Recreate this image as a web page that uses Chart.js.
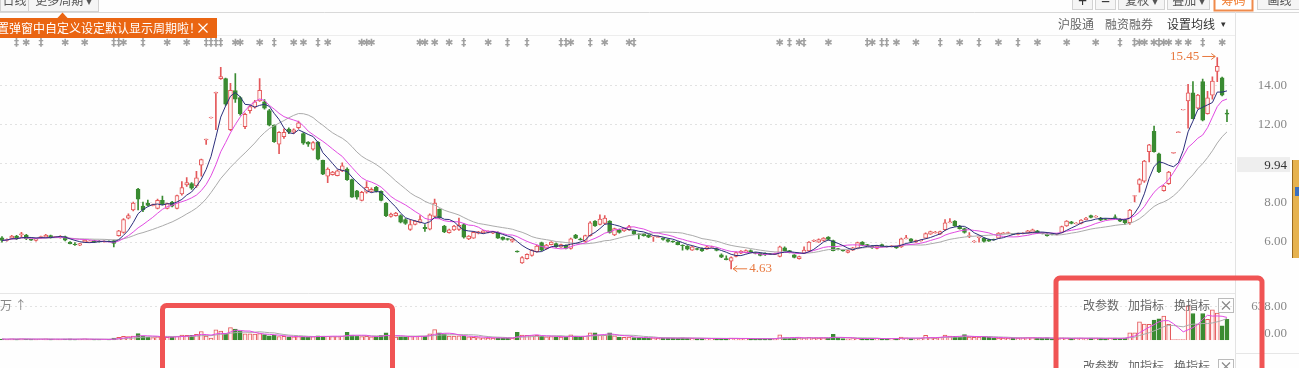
<!DOCTYPE html>
<html>
<head>
<meta charset="utf-8">
<script src="https://cdn.jsdelivr.net/npm/chart.js@4.4.1/dist/chart.umd.min.js"></script>
<style>
html, body { margin: 0; padding: 0; background: #fefefe; overflow: hidden; }
canvas { display: block; }
</style>
</head>
<body>
<canvas id="kline" width="1299" height="368"></canvas>
<script>
// 日K数据 (读图估算)
const opens = [
  6.22, 6.08, 6.20, 6.30, 6.38, 6.36, 6.12, 6.09, 6.22, 6.25,
  6.33, 6.25, 6.24, 6.28, 6.00, 5.90, 5.84, 6.00, 6.02, 6.08,
  6.05, 6.02, 6.04, 6.08, 6.33, 6.49, 7.22, 7.64, 8.71, 7.84,
  8.00, 7.89, 7.72, 8.13, 7.72, 8.05, 7.72, 8.46, 8.92, 8.99,
  8.87, 9.94, 11.24, 12.36, 13.62, 14.37, 14.37, 11.75, 13.75, 13.40,
  11.91, 12.73, 12.90, 13.22, 13.18, 12.73, 11.99, 11.01, 11.39, 11.78,
  11.62, 11.85, 11.55, 11.12, 10.76, 11.12, 10.19, 9.37, 9.45, 9.40,
  9.65, 9.74, 9.20, 8.62, 8.13, 8.55, 8.60, 8.80, 8.60, 8.00,
  7.31, 7.35, 7.35, 7.15, 6.65, 6.90, 7.00, 6.75, 6.66, 7.31,
  7.67, 6.82, 6.48, 6.62, 6.65, 6.90, 6.16, 6.20, 6.45, 6.48,
  6.50, 6.46, 6.49, 6.25, 6.16, 6.05, 5.53, 4.93, 5.15, 5.31,
  5.51, 5.97, 5.67, 5.87, 5.92, 5.74, 5.84, 5.67, 6.36, 6.15,
  6.03, 6.33, 7.07, 6.90, 6.95, 7.07, 6.36, 6.63, 6.57, 6.63,
  6.57, 6.41, 6.41, 6.36, 6.28, 6.25, 6.20, 6.13, 6.03, 6.00,
  5.84, 5.79, 5.59, 5.65, 5.67, 5.64, 5.72, 5.67, 5.35, 5.16,
  5.02, 5.26, 5.43, 5.46, 5.56, 5.44, 5.43, 5.43, 5.40, 5.38,
  5.26, 5.70, 5.56, 5.34, 5.15, 5.43, 5.54, 6.05, 6.00, 6.08,
  6.25, 6.08, 5.65, 5.57, 5.47, 5.59, 5.67, 6.00, 5.85, 5.80,
  5.67, 5.87, 5.78, 5.77, 5.80, 5.75, 6.18, 6.16, 6.00, 6.06,
  6.20, 6.41, 6.48, 6.41, 6.63, 7.00, 7.07, 6.82, 6.69, 6.30,
  6.03, 6.24, 6.20, 6.13, 6.13, 6.20, 6.45, 6.46, 6.42, 6.41,
  6.44, 6.46, 6.49, 6.57, 6.46, 6.41, 6.42, 6.40, 6.49, 6.82,
  7.03, 6.95, 6.95, 7.15, 7.35, 7.29, 7.23, 7.18, 7.17, 7.28,
  7.18, 7.12, 6.99, 8.35, 8.95, 9.12, 10.63, 11.67, 10.52, 8.63,
  8.99, 10.56, 11.61, 12.77, 13.22, 13.64, 12.86, 14.21, 12.57, 13.52,
  14.73, 14.41, 12.60
]
const highs = [
  6.28, 6.16, 6.35, 6.34, 6.50, 6.40, 6.14, 6.18, 6.30, 6.40,
  6.36, 6.28, 6.33, 6.30, 6.03, 5.97, 5.94, 6.13, 6.08, 6.10,
  6.07, 6.06, 6.06, 6.10, 6.60, 7.20, 7.45, 8.05, 8.75, 8.05,
  8.15, 7.95, 8.20, 8.35, 8.00, 8.08, 8.40, 9.10, 9.30, 9.05,
  9.62, 10.25, 11.27, 12.40, 13.68, 14.95, 14.40, 14.13, 14.62, 13.45,
  12.60, 13.00, 13.25, 14.37, 13.30, 12.80, 12.00, 11.65, 11.80, 11.85,
  11.80, 12.20, 11.60, 11.15, 11.15, 11.15, 10.20, 9.80, 9.62, 9.70,
  10.05, 9.80, 9.22, 8.65, 8.60, 9.10, 8.78, 8.85, 8.62, 8.02,
  7.48, 7.52, 7.40, 7.20, 7.15, 7.10, 7.35, 6.90, 7.45, 8.20,
  7.70, 6.85, 6.66, 6.86, 7.23, 6.95, 6.33, 6.55, 6.55, 6.60,
  6.58, 6.55, 6.52, 6.27, 6.18, 6.17, 5.55, 5.25, 5.40, 5.62,
  5.85, 6.00, 5.88, 6.02, 5.95, 5.90, 5.86, 6.20, 6.40, 6.20,
  6.36, 7.05, 7.10, 7.40, 7.35, 7.10, 6.72, 6.66, 6.72, 6.85,
  6.60, 6.42, 6.44, 6.38, 6.32, 6.30, 6.22, 6.15, 6.06, 6.02,
  5.86, 5.82, 5.78, 5.68, 5.70, 5.78, 5.80, 5.70, 5.40, 5.30,
  5.24, 5.50, 5.56, 5.60, 5.60, 5.48, 5.45, 5.45, 5.42, 5.44,
  5.80, 5.75, 5.58, 5.36, 5.28, 5.75, 6.03, 6.12, 6.16, 6.23,
  6.28, 6.10, 5.68, 5.60, 5.58, 5.73, 6.00, 6.03, 5.88, 5.82,
  5.83, 5.90, 5.80, 5.83, 5.82, 6.20, 6.35, 6.18, 6.10, 6.12,
  6.47, 6.56, 6.55, 6.56, 7.15, 7.20, 7.10, 6.85, 6.72, 6.49,
  6.08, 6.26, 6.22, 6.15, 6.15, 6.49, 6.50, 6.51, 6.44, 6.46,
  6.48, 6.60, 6.66, 6.60, 6.48, 6.43, 6.44, 6.44, 6.82, 7.10,
  7.06, 7.00, 7.15, 7.26, 7.38, 7.35, 7.26, 7.20, 7.22, 7.40,
  7.20, 7.17, 7.68, 8.39, 9.25, 10.18, 11.00, 11.94, 10.55, 8.90,
  9.62, 10.59, 11.64, 12.80, 14.08, 14.21, 13.56, 14.34, 13.72, 14.46,
  15.45, 14.45, 12.77
]
const lows = [
  6.00, 6.05, 6.15, 6.12, 6.24, 6.12, 6.09, 6.05, 6.18, 6.22,
  6.20, 6.22, 6.20, 6.06, 5.90, 5.83, 5.82, 5.98, 5.98, 5.97,
  5.99, 6.00, 6.01, 5.75, 6.30, 6.45, 7.18, 7.60, 7.64, 7.55,
  7.85, 7.85, 7.70, 7.90, 7.70, 7.80, 7.70, 8.40, 8.85, 8.70,
  8.80, 9.37, 11.00, 12.34, 11.75, 14.33, 13.00, 11.70, 13.15, 12.50,
  11.80, 12.60, 12.85, 13.20, 12.80, 11.95, 11.10, 10.52, 11.30, 11.55,
  11.55, 11.80, 11.00, 10.90, 10.70, 10.20, 9.45, 9.04, 9.42, 9.38,
  9.60, 9.15, 8.28, 8.20, 8.10, 8.50, 8.55, 8.55, 8.10, 7.30,
  7.28, 7.32, 6.98, 6.90, 6.60, 6.88, 6.98, 6.55, 6.62, 7.28,
  7.20, 6.48, 6.45, 6.60, 6.60, 6.20, 6.12, 6.18, 6.42, 6.45,
  6.47, 6.43, 6.18, 6.10, 6.10, 6.00, 5.48, 4.90, 5.12, 5.28,
  5.48, 5.55, 5.64, 5.85, 5.72, 5.72, 5.65, 5.64, 6.17, 6.10,
  6.00, 6.30, 6.80, 6.88, 6.92, 6.45, 6.33, 6.45, 6.55, 6.60,
  6.38, 6.16, 6.30, 6.22, 6.03, 6.22, 6.10, 6.00, 5.98, 5.85,
  5.59, 5.60, 5.57, 5.60, 5.52, 5.62, 5.70, 5.55, 5.20, 5.08,
  4.63, 5.24, 5.40, 5.44, 5.44, 5.39, 5.29, 5.32, 5.36, 5.36,
  5.24, 5.54, 5.44, 5.19, 5.13, 5.40, 5.52, 6.02, 5.98, 6.05,
  6.10, 5.54, 5.60, 5.53, 5.45, 5.57, 5.65, 5.82, 5.80, 5.68,
  5.65, 5.75, 5.74, 5.75, 5.68, 5.73, 6.16, 6.00, 5.98, 6.04,
  6.18, 6.39, 6.45, 6.39, 6.60, 6.98, 6.80, 6.66, 6.46, 6.22,
  5.98, 6.00, 6.00, 6.03, 6.10, 6.18, 6.42, 6.43, 6.38, 6.37,
  6.42, 6.44, 6.47, 6.44, 6.42, 6.30, 6.36, 6.37, 6.47, 6.80,
  6.93, 6.92, 6.93, 7.13, 7.24, 7.27, 7.10, 7.15, 7.14, 7.25,
  7.05, 6.90, 6.90, 8.05, 8.55, 9.05, 10.10, 10.60, 9.55, 8.60,
  8.95, 10.55, 11.60, 12.76, 11.83, 12.30, 12.82, 12.20, 12.55, 13.31,
  14.21, 13.48, 12.16
]
const closes = [
  6.08, 6.13, 6.30, 6.17, 6.42, 6.17, 6.11, 6.16, 6.28, 6.36,
  6.24, 6.26, 6.29, 6.10, 5.92, 5.86, 5.92, 6.10, 6.05, 6.00,
  6.02, 6.04, 6.03, 5.93, 6.57, 7.15, 7.35, 8.00, 8.19, 7.64,
  7.88, 7.90, 8.13, 7.93, 7.97, 7.84, 8.38, 8.79, 9.04, 8.76,
  9.29, 10.22, 11.26, 12.38, 13.66, 14.47, 13.06, 13.77, 13.31, 12.57,
  12.54, 12.93, 13.18, 13.77, 12.86, 11.99, 11.14, 11.62, 11.62, 11.62,
  11.75, 12.10, 11.06, 11.01, 11.09, 10.24, 9.48, 9.74, 9.58, 9.65,
  9.90, 9.20, 8.30, 8.30, 8.55, 8.80, 8.70, 8.60, 8.13, 7.35,
  7.43, 7.48, 7.02, 6.95, 6.90, 7.07, 7.15, 6.68, 7.40, 8.00,
  7.23, 6.52, 6.62, 6.82, 6.85, 6.25, 6.30, 6.50, 6.52, 6.57,
  6.55, 6.52, 6.20, 6.13, 6.15, 6.15, 5.50, 5.21, 5.37, 5.59,
  5.80, 5.59, 5.84, 6.00, 5.75, 5.87, 5.67, 6.16, 6.20, 6.12,
  6.33, 6.99, 6.82, 7.18, 7.23, 6.49, 6.69, 6.49, 6.69, 6.79,
  6.41, 6.38, 6.33, 6.25, 6.30, 6.26, 6.13, 6.03, 6.02, 5.87,
  5.82, 5.64, 5.75, 5.64, 5.54, 5.75, 5.76, 5.57, 5.22, 5.10,
  5.21, 5.46, 5.54, 5.56, 5.46, 5.43, 5.31, 5.34, 5.38, 5.40,
  5.75, 5.56, 5.46, 5.21, 5.26, 5.59, 6.00, 6.08, 6.13, 6.20,
  6.13, 5.56, 5.64, 5.56, 5.56, 5.70, 5.97, 5.84, 5.84, 5.70,
  5.80, 5.77, 5.77, 5.80, 5.70, 6.16, 6.20, 6.03, 6.08, 6.09,
  6.44, 6.53, 6.50, 6.53, 6.99, 7.02, 6.82, 6.69, 6.49, 6.33,
  6.04, 6.25, 6.03, 6.05, 6.12, 6.46, 6.46, 6.47, 6.41, 6.42,
  6.45, 6.57, 6.63, 6.46, 6.45, 6.33, 6.39, 6.41, 6.79, 7.07,
  6.95, 6.96, 7.12, 7.23, 7.26, 7.31, 7.12, 7.17, 7.18, 7.27,
  7.07, 6.99, 7.64, 8.38, 9.20, 10.14, 10.98, 10.63, 9.61, 8.87,
  9.58, 10.58, 11.63, 12.79, 13.64, 12.32, 13.52, 12.24, 13.39, 14.24,
  15.00, 13.52, 12.55
]
// 成交量 (万)
const volumes = [
  22, 18, 25, 20, 28, 22, 15, 18, 22, 25,
  20, 15, 18, 22, 25, 18, 20, 25, 18, 16,
  15, 14, 15, 40, 55, 75, 70, 80, 125, 80,
  60, 50, 65, 60, 55, 60, 75, 95, 90, 90,
  110, 165, 80, 40, 195, 175, 125, 237, 213, 175,
  120, 120, 115, 125, 105, 85, 90, 70, 72, 65,
  62, 70, 65, 55, 70, 85, 80, 75, 70, 70,
  78, 150, 95, 78, 70, 72, 62, 70, 90, 140,
  70, 60, 62, 58, 80, 75, 80, 75, 120, 200,
  140, 120, 80, 78, 82, 80, 62, 55, 50, 45,
  42, 40, 45, 40, 38, 42, 150, 95, 90, 88,
  90, 80, 65, 70, 62, 60, 65, 100, 75, 60,
  75, 140, 140, 95, 90, 140, 85, 60, 55, 60,
  50, 48, 42, 40, 45, 38, 40, 42, 38, 40,
  45, 40, 35, 30, 35, 32, 30, 35, 30, 32,
  40, 35, 28, 30, 28, 25, 30, 28, 25, 28,
  100, 45, 40, 42, 40, 45, 55, 42, 40, 45,
  42, 110, 35, 30, 28, 32, 40, 35, 28, 30,
  32, 30, 28, 30, 32, 60, 45, 35, 30, 35,
  90, 50, 40, 55, 95, 80, 75, 60, 105, 60,
  55, 60, 58, 55, 45, 40, 42, 38, 40, 42,
  45, 50, 48, 40, 35, 45, 30, 32, 45, 40,
  35, 38, 40, 35, 42, 38, 35, 30, 38, 40,
  36, 42, 140, 140, 346, 304, 300, 383, 407, 456,
  300, 12, 10, 14, 650, 505, 304, 505, 395, 577,
  516, 273, 395
]
const priceTicks = [6, 8, 10, 12, 14]
const volTick = 638
const lastPrice = 9.94
// 顶部信息地雷标记 (K线序号)
const starMarks = [5, 13, 17, 25, 34, 38, 48, 49, 53, 60, 62, 67, 74, 75, 76, 86, 87, 89, 92, 100, 117, 124, 129,
  160, 164, 170, 179, 184, 188, 197, 205, 213, 219, 225, 234, 235, 237, 239, 240, 242, 244, 251]
const daggerMarks = [3, 8, 23, 24, 29, 42, 43, 44, 45, 56, 65, 95, 104, 108, 115, 116, 121, 130,
  162, 165, 178, 181, 182, 193, 201, 209, 230, 233, 238, 247]

const upColor = '#e4585a'
const upFill = '#fff3f3'
const downColor = '#3a8b32'
const cjk = "'Noto Sans CJK SC', sans-serif"
const num = "'Liberation Serif', serif"

function movingAverage(values, n) {
  return values.map((v, i) => {
    const part = values.slice(Math.max(0, i - n + 1), i + 1)
    return part.reduce((a, b) => a + b, 0) / part.length
  })
}
const toPoints = arr => arr.map((v, i) => ({ x: i, y: v }))

const idx = closes.map((_, i) => i)
const isUp = idx.map(i => closes[i] >= opens[i])
const lineColor = idx.map(i => isUp[i] ? upColor : downColor)
const fillColor = idx.map(i => isUp[i] ? upFill : downColor)

const wickData = idx.map(i => ({ x: i, y: [lows[i], highs[i]] }))
const bodyData = idx.map(i => {
  let lo = Math.min(opens[i], closes[i])
  let hi = Math.max(opens[i], closes[i])
  if (hi - lo < 0.04) { const m = (hi + lo) / 2; lo = m - 0.02; hi = m + 0.02 }
  return { x: i, y: [lo, hi] }
})
const volData = idx.map(i => ({ x: i, y: volumes[i] }))

const ma = (data, n, color, axis) => ({
  type: 'line', data: toPoints(movingAverage(data, n)), yAxisID: axis,
  borderColor: color, borderWidth: 1, pointRadius: 0, tension: 0, order: 0
})

function roundBox(c, x, y, w, h, r) {
  c.beginPath()
  c.moveTo(x + r, y)
  c.arcTo(x + w, y, x + w, y + h, r)
  c.arcTo(x + w, y + h, x, y + h, r)
  c.arcTo(x, y + h, x, y, r)
  c.arcTo(x, y, x + w, y, r)
  c.closePath()
}
function line(c, x1, y1, x2, y2, color) {
  c.strokeStyle = color
  c.lineWidth = 1
  c.beginPath(); c.moveTo(x1, y1); c.lineTo(x2, y2); c.stroke()
}
function text(c, s, x, y, color, font, align) {
  c.fillStyle = color
  c.font = font
  c.textAlign = align || 'left'
  c.textBaseline = 'middle'
  c.fillText(s, x, y)
}
function cross(c, x, y, s, color) {
  c.strokeStyle = color
  c.lineWidth = 1.2
  c.beginPath()
  c.moveTo(x - s, y - s); c.lineTo(x + s, y + s)
  c.moveTo(x + s, y - s); c.lineTo(x - s, y + s)
  c.stroke()
}
function button(c, x, y, w, h, label, opts) {
  c.fillStyle = opts.bg || '#f5f5f5'
  c.fillRect(x, y, w, h)
  c.strokeStyle = opts.border || '#d2d2d2'
  c.lineWidth = opts.bw || 1
  c.strokeRect(x + 0.5, y + 0.5, w - 1, h - 1)
  text(c, label, x + w / 2, opts.ty === undefined ? 0.5 : opts.ty, opts.color || '#555', opts.font || '12px ' + cjk, 'center')
}

// 装饰: 工具栏, 提示条, 标记, 标注框
const decor = {
  id: 'decor',
  beforeDraw(chart) {
    const c = chart.ctx
    c.save()
    c.fillStyle = '#fefefe'
    c.fillRect(0, 0, chart.width, chart.height)
    c.restore()
  },
  afterDraw(chart) {
    const c = chart.ctx
    const xs = chart.scales.x
    const ys = chart.scales.y
    c.save()

    // 分隔线
    line(c, 0, 12.5, 1299, 12.5, '#d9d9d9')
    line(c, 217, 35.5, 1235, 35.5, '#ededed')
    line(c, 1235.5, 12, 1235.5, 368, '#e3e3e3')
    line(c, 0, 293.5, 1235, 293.5, '#e6e6e6')
    line(c, 1235, 353.5, 1299, 353.5, '#e6e6e6')

    // 左上周期标签
    button(c, 0, -10, 29, 22, '日线', {})
    button(c, 28, -10, 71, 22, '更多周期 ▾', {})

    // 右上按钮
    button(c, 1072, -10, 21, 20, '+', { font: 'bold 16px ' + num, color: '#333', ty: 3 })
    button(c, 1095, -10, 21, 20, '−', { font: 'bold 16px ' + num, color: '#333', ty: 3 })
    button(c, 1118, -10, 47, 20, '复权 ▾', {})
    button(c, 1167, -10, 43, 20, '叠加 ▾', {})
    button(c, 1214, -10, 39, 21, '筹码', { bg: '#fff', border: '#f08a4b', bw: 2, color: '#f07a2c' })
    button(c, 1257, -10, 45, 20, '画线', {})

    // 橙色提示条
    c.fillStyle = '#ea6512'
    c.fillRect(0, 18, 217, 20)
    c.beginPath(); c.moveTo(57, 18.5); c.lineTo(62.5, 12.5); c.lineTo(68, 18.5); c.closePath(); c.fill()
    text(c, '置弹窗中自定义设定默认显示周期啦！', -3, 28.5, '#ffffff', '12px ' + cjk)
    cross(c, 203, 28, 4.5, '#ffffff')

    // 右侧菜单
    text(c, '沪股通', 1058, 24, '#666', '12px ' + cjk)
    text(c, '融资融券', 1105, 24, '#666', '12px ' + cjk)
    text(c, '设置均线', 1167, 24, '#333', '12px ' + cjk)
    text(c, '▾', 1221, 24, '#333', '9px ' + cjk)

    // 信息地雷
    starMarks.forEach(i => text(c, '✱', xs.getPixelForValue(i), 43, '#a0a0a0', '10px DejaVu Sans', 'center'))
    daggerMarks.forEach(i => text(c, '‡', xs.getPixelForValue(i), 43, '#a0a0a0', 'bold 10px DejaVu Sans', 'center'))

    // 最高 / 最低标注
    const hiIdx = highs.indexOf(Math.max(...highs))
    const loIdx = lows.indexOf(Math.min(...lows))
    const orange = '#e8783e'
    let px = xs.getPixelForValue(hiIdx), py = ys.getPixelForValue(highs[hiIdx]) - 1
    line(c, px - 15, py, px - 2, py, orange)
    line(c, px - 6, py - 3, px - 2, py, orange)
    line(c, px - 6, py + 3, px - 2, py, orange)
    text(c, highs[hiIdx].toFixed(2), px - 18, py, orange, '13px ' + num, 'right')
    px = xs.getPixelForValue(loIdx); py = ys.getPixelForValue(lows[loIdx])
    line(c, px + 2, py, px + 16, py, orange)
    line(c, px + 6, py - 3, px + 2, py, orange)
    line(c, px + 6, py + 3, px + 2, py, orange)
    text(c, lows[loIdx].toFixed(2), px + 18, py, orange, '13px ' + num)

    // 最新价
    const lp = ys.getPixelForValue(lastPrice)
    c.fillStyle = '#eeeeee'
    c.fillRect(1237, lp - 8, 53, 15)
    text(c, lastPrice.toFixed(2), 1287, lp, '#333', '13px ' + num, 'right')

    // 成交量副图
    text(c, '万 ↑', 0, 305, '#888', '12px ' + cjk)
    const yv = chart.scales.yv
    text(c, volTick.toFixed(2), 1287, yv.getPixelForValue(volTick), '#888', '13px ' + num, 'right')
    text(c, (0).toFixed(2), 1287, yv.getPixelForValue(0) - 7, '#888', '13px ' + num, 'right')
    ;[305, 366].forEach(ty => {
      text(c, '改参数', 1083, ty, '#666', '12px ' + cjk)
      text(c, '加指标', 1128, ty, '#666', '12px ' + cjk)
      text(c, '换指标', 1174, ty, '#666', '12px ' + cjk)
      c.strokeStyle = '#bbbbbb'; c.lineWidth = 1
      c.strokeRect(1218.5, ty - 6.5, 15, 14)
      cross(c, 1226, ty + 0.5, 4, '#888')
    })

    // 右侧卡通挂件
    c.fillStyle = '#e6b24f'
    c.fillRect(1293, 160, 6, 98)
    c.fillStyle = '#3b6fbf'
    c.fillRect(1295, 187, 4, 9)
    line(c, 1292.5, 160, 1292.5, 258, '#9a6a20')

    // 红色标注框
    c.strokeStyle = '#f05454'
    c.lineWidth = 5
    roundBox(c, 162.5, 305.5, 230, 80, 4); c.stroke()
    roundBox(c, 1056, 278, 206, 100, 4); c.stroke()
    c.restore()
  }
}

new Chart(document.getElementById('kline'), {
  type: 'bar',
  data: {
    datasets: [
      ma(closes, 5, '#2c2f7c', 'y'),
      ma(closes, 10, '#e24be2', 'y'),
      ma(closes, 20, '#ababab', 'y'),
      {
        data: bodyData, yAxisID: 'y', order: 1, grouped: false, barThickness: 4,
        backgroundColor: fillColor, borderColor: lineColor, borderWidth: 1, borderSkipped: false
      },
      {
        data: wickData, yAxisID: 'y', order: 2, grouped: false, barThickness: 1,
        backgroundColor: lineColor, borderWidth: 0
      },
      {
        data: volData, yAxisID: 'yv', order: 1, grouped: false, barThickness: 4,
        backgroundColor: fillColor, borderColor: lineColor, borderWidth: 1, borderSkipped: 'start'
      },
      ma(volumes, 5, '#e24be2', 'yv'),
      ma(volumes, 10, '#ababab', 'yv')
    ]
  },
  options: {
    responsive: false,
    animation: false,
    devicePixelRatio: 1,
    events: [],
    layout: { padding: { top: 40, bottom: 16, left: 0, right: 0 } },
    plugins: { legend: { display: false }, tooltip: { enabled: false } },
    scales: {
      x: { type: 'linear', min: -0.411, max: 253.65, offset: false, display: false },
      y: {
        position: 'right', min: 0.975, max: 16.345,
        afterBuildTicks: s => { s.ticks = priceTicks.map(v => ({ value: v })) },
        afterFit: s => { s.width = 52 },
        grid: { color: '#e2e2e2', drawTicks: false },
        border: { display: false, dash: [2, 3] },
        ticks: {
          padding: 20, crossAlign: 'far', color: '#888',
          font: { family: 'Liberation Serif', size: 13 },
          callback: v => Number(v).toFixed(2)
        }
      },
      yv: {
        position: 'right', min: 0, max: 5687,
        afterBuildTicks: s => { s.ticks = [{ value: volTick }] },
        afterFit: s => { s.width = 12 },
        grid: { color: '#e2e2e2', drawTicks: false },
        border: { display: false, dash: [2, 3] },
        ticks: { display: false }
      }
    }
  },
  plugins: [decor]
})
</script>
</body>
</html>
